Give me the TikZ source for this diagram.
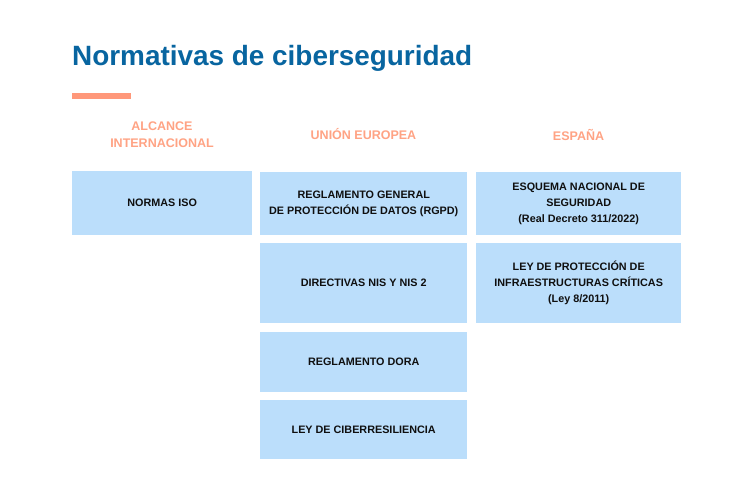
\documentclass[tikz,border=0pt]{standalone}
\usepackage{fontspec}
\setmainfont{Liberation Sans}
\definecolor{titleblue}{RGB}{8,101,160}
\definecolor{salmon}{RGB}{255,152,122}
\definecolor{headsalmon}{RGB}{255,163,132}
\definecolor{boxblue}{RGB}{187,222,251}
\definecolor{boxtext}{RGB}{15,15,15}
\tikzset{
  card/.style={fill=boxblue, draw=none, anchor=north west, inner sep=2pt,
    align=center, text=boxtext, font=\bfseries\fontsize{10.8}{16}\selectfont},
  colhead/.style={text=headsalmon, align=center, inner sep=0pt,
    font=\bfseries\fontsize{12.5}{17}\selectfont}
}
\begin{document}
\begin{tikzpicture}[x=1pt,y=-1pt]
\useasboundingbox (0,0) rectangle (750,500);
\fill[white] (0,0) rectangle (750,500);
% title
\node[anchor=base west, inner sep=0pt, text=titleblue,
  font=\bfseries\fontsize{27.9}{32}\selectfont] (title) at (72,66) {Normativas de ciberseguridad};
\fill[salmon] (72,93) rectangle (131,99);
% column headers
\node[colhead] (h1) at (162,134.5) {ALCANCE\\INTERNACIONAL};
\node[colhead] (h2) at (363.5,134.5) {UNIÓN EUROPEA};
\node[colhead] (h3) at (578.5,134.5) {ESPAÑA};
% left column
\node[card, minimum width=180pt, minimum height=64pt] (iso) at (72,171) {NORMAS ISO};
% middle column
\node[card, minimum width=207pt, minimum height=63pt] (rgpd) at (260,172) {REGLAMENTO GENERAL\\DE PROTECCIÓN DE DATOS (RGPD)};
\node[card, minimum width=207pt, minimum height=80pt] (nis) at (260,243) {DIRECTIVAS NIS Y NIS 2};
\node[card, minimum width=207pt, minimum height=60pt] (dora) at (260,332) {REGLAMENTO DORA};
\node[card, minimum width=207pt, minimum height=59pt] (cra) at (260,400) {LEY DE CIBERRESILIENCIA};
% right column
\node[card, minimum width=205pt, minimum height=63pt] (ens) at (476,172) {ESQUEMA NACIONAL DE\\SEGURIDAD\\(Real Decreto 311/2022)};
\node[card, minimum width=205pt, minimum height=80pt] (pic) at (476,243) {LEY DE PROTECCIÓN DE\\INFRAESTRUCTURAS CRÍTICAS\\(Ley 8/2011)};
\end{tikzpicture}
\end{document}
